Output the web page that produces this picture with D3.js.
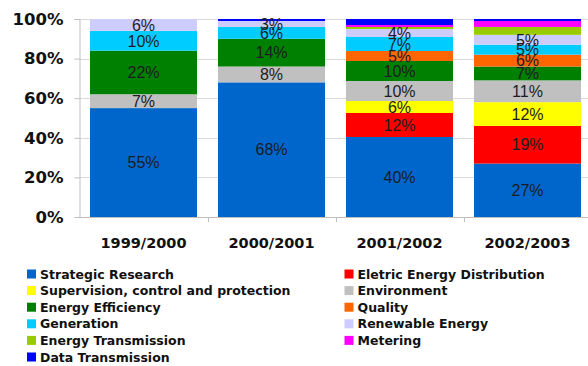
<!DOCTYPE html>
<html>
<head>
<meta charset="utf-8">
<script src="https://cdn.jsdelivr.net/npm/d3@7"></script>
<style>
  html, body { margin: 0; padding: 0; background: #fff; }
  svg { display: block; }
</style>
</head>
<body>
<svg id="chart" width="588" height="366"></svg>
<script>
// Funding share per research area, by academic period (percent)
const periods = ["1999/2000", "2000/2001", "2001/2002", "2002/2003"];

const seriesNames = [
  "Strategic Research",
  "Eletric Energy Distribution",
  "Supervision, control and protection",
  "Environment",
  "Energy Efficiency",
  "Quality",
  "Generation",
  "Renewable Energy",
  "Energy Transmission",
  "Metering",
  "Data Transmission"
];

const strategicResearch   = [55, 68, 40, 27];
const electricDistribution = [0, 0, 12, 19];
const supervision         = [0, 0, 6, 12];
const environment         = [7, 8, 10, 11];
const energyEfficiency    = [22, 14, 10, 7];
const quality             = [0, 0, 5, 6];
const generation          = [10, 6, 7, 5];
const renewableEnergy     = [6, 3, 4, 5];
const energyTransmission  = [0, 0, 1, 4];
const metering            = [0, 0, 1, 3];
const dataTransmission    = [0, 1, 3, 1];

const yTicks = [0, 0.2, 0.4, 0.6, 0.8, 1];

const colors = {
  "Strategic Research": "#0066cc",
  "Eletric Energy Distribution": "#ff0000",
  "Supervision, control and protection": "#ffff00",
  "Environment": "#c0c0c0",
  "Energy Efficiency": "#008000",
  "Quality": "#ff6600",
  "Generation": "#00ccff",
  "Renewable Energy": "#ccccff",
  "Energy Transmission": "#99cc00",
  "Metering": "#ff00ff",
  "Data Transmission": "#0000ff"
};

// the three thin top categories carry no value label
const labelled = new Set(seriesNames.slice(0, 8));

const columns = [strategicResearch, electricDistribution, supervision, environment,
  energyEfficiency, quality, generation, renewableEnergy, energyTransmission,
  metering, dataTransmission];

const rows = periods.map((p, i) => {
  const r = { period: p };
  seriesNames.forEach((s, j) => { r[s] = columns[j][i]; });
  return r;
});

const stacked = d3.stack()
  .keys(seriesNames)
  .offset(d3.stackOffsetExpand)(rows);

const svg = d3.select("#chart");
const plot = { left: 79.5, right: 591.5, top: 19, bottom: 217 };

const x = d3.scaleBand()
  .domain(periods)
  .range([plot.left, plot.right])
  .paddingInner(0.164)
  .paddingOuter(0.082);

const y = d3.scaleLinear().domain([0, 1]).range([plot.bottom, plot.top]);

// gridlines
svg.append("g")
  .selectAll("line")
  .data(yTicks.filter(t => t > 0))
  .join("line")
  .attr("x1", plot.left).attr("x2", 588)
  .attr("y1", d => Math.round(y(d)) + 0.5)
  .attr("y2", d => Math.round(y(d)) + 0.5)
  .attr("stroke", "#d9d9d9").attr("stroke-width", 1);

// stacked bars
const layer = svg.append("g")
  .selectAll("g")
  .data(stacked)
  .join("g")
  .attr("fill", d => colors[d.key]);

layer.selectAll("rect")
  .data(d => d.map(v => ({ v, key: d.key })))
  .join("rect")
  .attr("x", d => x(d.v.data.period))
  .attr("width", x.bandwidth())
  .attr("y", d => y(d.v[1]))
  .attr("height", d => Math.max(0, y(d.v[0]) - y(d.v[1])));

// value labels
const labels = [];
stacked.forEach(s => {
  if (!labelled.has(s.key)) return;
  s.forEach(v => {
    const val = v.data[s.key];
    if (val >= 3) labels.push({ val, period: v.data.period, mid: (v[0] + v[1]) / 2 });
  });
});

svg.append("g")
  .selectAll("text")
  .data(labels)
  .join("text")
  .attr("x", d => x(d.period) + x.bandwidth() / 2)
  .attr("y", d => y(d.mid))
  .attr("dy", "0.36em")
  .attr("text-anchor", "middle")
  .attr("font-family", "'Liberation Sans', Arial, sans-serif")
  .attr("font-size", 16)
  .attr("fill", "#1c1c24")
  .text(d => d.val + "%");

// y axis
const yAxis = svg.append("g")
  .attr("transform", `translate(${plot.left},0)`)
  .call(d3.axisLeft(y).tickValues(yTicks).tickFormat(d3.format(".0%")).tickSize(5).tickPadding(11));
yAxis.select(".domain").attr("stroke", "#bfbfbf");
yAxis.selectAll(".tick line").attr("stroke", "#bfbfbf");
yAxis.selectAll("text")
  .attr("font-family", "'DejaVu Sans', Verdana, sans-serif")
  .attr("font-weight", "bold")
  .attr("font-size", 16.5)
  .attr("fill", "#111");

// x axis line with ticks at category boundaries
svg.append("line")
  .attr("x1", plot.left).attr("x2", 588)
  .attr("y1", plot.bottom + 0.5).attr("y2", plot.bottom + 0.5)
  .attr("stroke", "#bfbfbf");
svg.append("g")
  .selectAll("line")
  .data(periods.slice(1))
  .join("line")
  .attr("x1", d => Math.round(x(d) - x.step() * x.paddingInner() / 2) + 0.5)
  .attr("x2", d => Math.round(x(d) - x.step() * x.paddingInner() / 2) + 0.5)
  .attr("y1", plot.bottom).attr("y2", plot.bottom + 5)
  .attr("stroke", "#bfbfbf");

svg.append("g")
  .selectAll("text")
  .data(periods)
  .join("text")
  .attr("x", d => x(d) + x.bandwidth() / 2)
  .attr("y", 248)
  .attr("text-anchor", "middle")
  .attr("font-family", "'DejaVu Sans', Verdana, sans-serif")
  .attr("font-weight", "bold")
  .attr("font-size", 14.5)
  .attr("fill", "#111")
  .text(d => d);

// legend, two columns filled row by row
const legend = svg.append("g")
  .selectAll("g")
  .data(seriesNames)
  .join("g")
  .attr("transform", (d, i) => `translate(${i % 2 === 0 ? 27 : 344.5},${274 + Math.floor(i / 2) * 16.6})`);

legend.append("rect")
  .attr("x", 0).attr("y", -4.5)
  .attr("width", 9).attr("height", 9)
  .attr("fill", d => colors[d]);

legend.append("text")
  .attr("x", 13)
  .attr("y", 0)
  .attr("dy", "0.36em")
  .attr("font-family", "'DejaVu Sans', Verdana, sans-serif")
  .attr("font-weight", "bold")
  .attr("font-size", 12.5)
  .attr("fill", "#111")
  .text(d => d);
</script>
</body>
</html>
